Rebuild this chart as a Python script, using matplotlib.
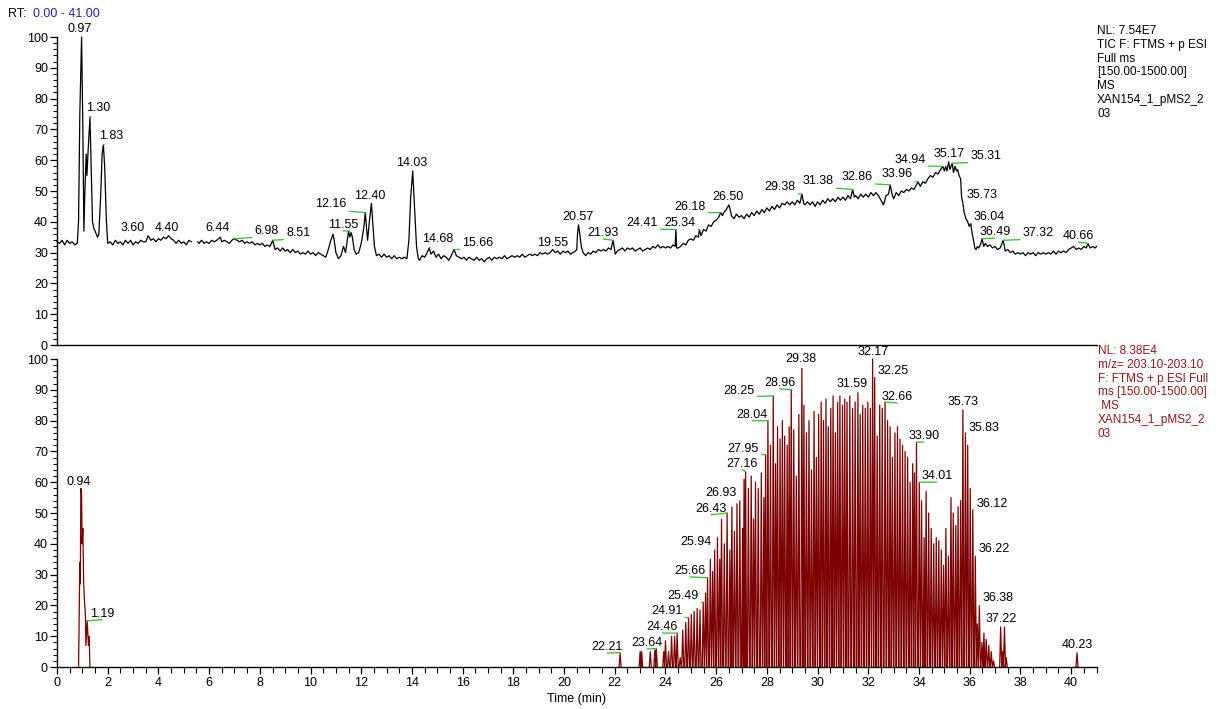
import numpy as np
import matplotlib.pyplot as plt
from matplotlib.ticker import MultipleLocator

plt.rcParams["font.family"] = ["Liberation Sans", "DejaVu Sans"]
plt.rcParams["font.size"] = 9

nan = float("nan")

# TIC trace (relative abundance, %)
tic_time = [
    0.0, 0.1, 0.2, 0.3, 0.4, 0.5, 0.6, 0.7, 0.8, 0.85,
    0.90, 0.97, 1.02, 1.06, 1.10, 1.15, 1.18, 1.22, 1.30, 1.34,
    1.40, 1.45, 1.50, 1.55, 1.60, 1.65, 1.72, 1.78, 1.83, 1.88,
    1.95, 2.0, 2.1, 2.2, 2.3, 2.4, 2.5, 2.6, 2.7, 2.8,
    2.9, 3.0, 3.1, 3.2, 3.3, 3.4, 3.5, 3.6, 3.7, 3.8,
    3.9, 4.0, 4.1, 4.2, 4.3, 4.4, 4.5, 4.6, 4.7, 4.8,
    4.9, 5.0, 5.1, 5.2, 5.3, 5.45, 5.55, 5.6, 5.7, 5.8,
    5.9, 6.0, 6.1, 6.2, 6.3, 6.44, 6.5, 6.6, 6.7, 6.8,
    6.9, 6.98, 7.1, 7.2, 7.3, 7.4, 7.5, 7.6, 7.7, 7.8,
    7.9, 8.0, 8.1, 8.2, 8.3, 8.4, 8.51, 8.6, 8.7, 8.8,
    8.9, 9.0, 9.1, 9.2, 9.3, 9.4, 9.5, 9.6, 9.7, 9.8,
    9.9, 10.0, 10.1, 10.2, 10.3, 10.4, 10.5, 10.6, 10.7, 10.8,
    10.89, 10.95, 11.0, 11.1, 11.2, 11.3, 11.38, 11.45, 11.5, 11.55,
    11.6, 11.65, 11.72, 11.8, 11.9, 12.0, 12.1, 12.16, 12.25, 12.32,
    12.40, 12.45, 12.52, 12.6, 12.7, 12.8, 12.9, 13.0, 13.1, 13.2,
    13.3, 13.4, 13.5, 13.6, 13.7, 13.8, 13.88, 13.95, 14.03, 14.1,
    14.18, 14.25, 14.3, 14.4, 14.5, 14.6, 14.68, 14.75, 14.85, 14.95,
    15.05, 15.15, 15.25, 15.35, 15.45, 15.55, 15.66, 15.75, 15.85, 15.95,
    16.05, 16.15, 16.25, 16.35, 16.45, 16.55, 16.65, 16.75, 16.85, 16.95,
    17.05, 17.15, 17.25, 17.35, 17.45, 17.55, 17.65, 17.75, 17.85, 17.95,
    18.05, 18.15, 18.25, 18.35, 18.45, 18.55, 18.65, 18.75, 18.85, 18.95,
    19.05, 19.15, 19.25, 19.35, 19.45, 19.55, 19.65, 19.75, 19.85, 19.95,
    20.05, 20.15, 20.25, 20.35, 20.45, 20.50, 20.53, 20.57, 20.62, 20.68,
    20.75, 20.85, 20.95, 21.05, 21.15, 21.25, 21.35, 21.45, 21.55, 21.65,
    21.75, 21.85, 21.93, 21.98, 22.02, 22.1, 22.2, 22.3, 22.4, 22.5,
    22.6, 22.7, 22.8, 22.9, 23.0, 23.1, 23.2, 23.3, 23.4, 23.5,
    23.6, 23.7, 23.8, 23.9, 24.0, 24.1, 24.2, 24.3, 24.38, 24.41,
    24.44, 24.5, 24.6, 24.7, 24.8, 24.9, 25.0, 25.1, 25.2, 25.3,
    25.34, 25.4, 25.5, 25.6, 25.7, 25.8, 25.9, 26.0, 26.1, 26.18,
    26.25, 26.3, 26.4, 26.5, 26.55, 26.6, 26.7, 26.8, 26.9, 27.0,
    27.1, 27.2, 27.3, 27.4, 27.5, 27.6, 27.7, 27.8, 27.9, 28.0,
    28.1, 28.2, 28.3, 28.4, 28.5, 28.6, 28.7, 28.8, 28.9, 29.0,
    29.1, 29.2, 29.3, 29.38, 29.45, 29.5, 29.6, 29.7, 29.8, 29.9,
    30.0, 30.1, 30.2, 30.3, 30.4, 30.5, 30.6, 30.7, 30.8, 30.9,
    31.0, 31.1, 31.2, 31.3, 31.38, 31.45, 31.5, 31.6, 31.7, 31.8,
    31.9, 32.0, 32.1, 32.2, 32.3, 32.4, 32.5, 32.6, 32.7, 32.8,
    32.86, 32.95, 33.0, 33.1, 33.2, 33.3, 33.4, 33.5, 33.6, 33.7,
    33.8, 33.9, 33.96, 34.05, 34.15, 34.25, 34.35, 34.45, 34.55, 34.65,
    34.75, 34.85, 34.94, 35.0, 35.05, 35.1, 35.17, 35.22, 35.31, 35.36,
    35.42, 35.48, 35.52, 35.58, 35.64, 35.68, 35.73, 35.78, 35.85, 35.92,
    35.98, 36.04, 36.1, 36.15, 36.2, 36.25, 36.3, 36.35, 36.42, 36.49,
    36.55, 36.62, 36.7, 36.8, 36.9, 37.0, 37.1, 37.2, 37.32, 37.4,
    37.5, 37.6, 37.7, 37.8, 37.9, 38.0, 38.1, 38.2, 38.3, 38.4,
    38.5, 38.6, 38.7, 38.8, 38.9, 39.0, 39.1, 39.2, 39.3, 39.4,
    39.5, 39.6, 39.7, 39.8, 39.9, 40.0, 40.1, 40.2, 40.3, 40.4,
    40.5, 40.6, 40.66, 40.75, 40.85, 40.95, 41.0,
]
tic_intensity = [
    33.5, 33, 34, 32.5, 34, 33, 33.5, 32.5, 33, 40,
    75, 100, 70, 37, 50, 62, 55, 62, 74, 60,
    40, 38, 37, 36, 35, 36, 48, 62, 65, 58,
    40, 33, 33.5, 32.5, 34, 33, 33.5, 32.5, 34, 33,
    34, 32.5, 33.5, 33, 34, 33.5, 33.5, 35.5, 34, 34.5,
    33.5, 34.5, 34, 35, 34.5, 35.5, 34.5, 34, 33, 34,
    33, 33.5, 32.5, 34, 33.5, nan, 33.5, 33, 34, 33,
    33.5, 33, 34, 33.5, 34, 35, 33.5, 34, 33.5, 33,
    34, 34.5, 34, 33.5, 34, 33, 33.5, 33, 33.5, 32.5,
    33, 32.5, 33, 32, 32.5, 32, 34, 31, 31.5, 30.5,
    31.5, 30.5, 31, 30, 31, 30, 30.5, 29.5, 30, 29.5,
    30.5, 29.5, 30, 29, 30, 29.5, 29, 28.5, 31, 34,
    36, 33, 30, 28, 29, 32, 30, 34, 37, 35,
    36.5, 35, 31, 29.5, 30, 33, 38, 43, 34, 40,
    46, 40, 32, 29, 29.5, 28.5, 29.5, 28.5, 29, 28,
    29, 28, 28.5, 28, 28.5, 28, 34, 48, 56.5, 45,
    32, 28, 27.5, 29, 28.5, 30, 31.5, 29.5, 30.5, 28.5,
    29.5, 28, 29, 28.5, 27.5, 29, 31, 29, 28.5, 28,
    28.5, 27.5, 28.5, 28, 27.5, 28.5, 27.5, 28, 27, 28,
    28.5, 27.5, 28.5, 28, 28.5, 28, 29, 28, 28.5, 29,
    28.5, 29, 28.5, 29.5, 28.5, 29, 29.5, 29, 29.5, 29,
    30, 29.5, 30, 29.5, 30, 31, 30, 30.5, 29.5, 30.5,
    30, 30.5, 29.5, 30, 30.5, 31, 36, 39, 36, 32,
    30, 29, 30, 29.5, 30.5, 30, 31, 30.5, 31, 30.5,
    31.5, 31, 34, 31.5, 29.5, 30.5, 31, 31.5, 30.5, 31.5,
    31, 31.5, 30.5, 31, 31.5, 30.5, 31, 31.5, 31, 32,
    31.5, 32.5, 31.5, 32, 31.5, 32, 31.5, 32.5, 32, 37.5,
    31.5, 31.5, 32, 33, 32.5, 34, 34.5, 34, 35.5, 35,
    37.5, 35.5, 37.5, 37, 39, 38.5, 40, 40.5, 41.5, 43,
    42, 43, 44, 45.5, 44, 42, 41, 42.5, 41.5, 42,
    41, 42.5, 41.5, 43, 42, 43.5, 42.5, 44, 43, 44.5,
    43.5, 45, 44, 45.5, 44.5, 46, 45.5, 46.5, 45.5, 46.5,
    45.5, 47, 46, 49, 46, 45.5, 46.5, 45.5, 46.5, 45,
    46.5, 45.5, 47, 46, 47.5, 46.5, 47.5, 46.5, 48, 47,
    48, 47, 48.5, 47.5, 50.5, 48, 48.5, 47.5, 49, 48,
    49, 48, 49.5, 48.5, 49.5, 48.5, 47, 45.5, 48.5, 49,
    52, 48.5, 47.5, 49.5, 48.5, 50, 49.5, 50.5, 50, 51,
    50.5, 52, 53, 51.5, 53, 52.5, 54, 55, 54.5, 56,
    55.5, 57, 58, 56.5, 58, 56.5, 59.5, 57, 59, 56,
    58, 56.5, 57, 55, 54, 48, 46, 43, 41, 40,
    38.5, 39.5, 36, 34, 31.5, 31, 32, 31.5, 32.5, 34.5,
    32, 33, 32, 32.5, 31.5, 32, 31, 31.5, 34, 30.5,
    31, 30, 30.5, 29.5, 30, 29.5, 30, 29, 30, 29.5,
    30, 29, 30, 29.5, 30, 29.5, 30, 29.5, 30.5, 29.5,
    30.5, 30, 30.5, 30, 31, 31.5, 32, 31, 31.5, 31,
    32, 31.5, 33, 31.5, 32, 31.5, 32,
]

# m/z 203.10 extracted ion chromatogram
xic_early_time = [0.85, 0.87, 0.90, 0.92, 0.94, 0.97, 0.99, 1.02, 1.05,
                  1.08, 1.12, 1.14, 1.19, 1.24, 1.27, 1.30]
xic_early_intensity = [0, 13, 34, 27, 58, 56, 40, 45, 28,
                       22, 17, 7, 15, 7, 10, 0]

xic_spike_time = [
    22.21, 23.00, 23.06, 23.40, 23.58, 23.64, 23.93,
    24.00, 24.12, 24.24, 24.36, 24.46, 24.58, 24.68, 24.80, 24.91,
    25.02, 25.13, 25.25, 25.36, 25.49, 25.58, 25.66, 25.77, 25.86, 25.94,
    26.05, 26.14, 26.21, 26.32, 26.43, 26.54, 26.62, 26.72, 26.82, 26.93,
    27.04, 27.10, 27.16, 27.27, 27.38, 27.47, 27.55, 27.66, 27.78, 27.88, 27.95,
    28.04, 28.14, 28.25, 28.34, 28.42, 28.52, 28.61, 28.70, 28.80, 28.88, 28.96,
    29.06, 29.16, 29.26, 29.38, 29.46, 29.56, 29.66, 29.76, 29.86, 29.95,
    30.04, 30.14, 30.23, 30.33, 30.42, 30.52, 30.61, 30.70, 30.79, 30.88,
    30.98, 31.07, 31.16, 31.27, 31.38, 31.48, 31.59, 31.68, 31.78, 31.88,
    31.98, 32.08, 32.17, 32.25, 32.35, 32.45, 32.55, 32.66, 32.76, 32.86, 32.95,
    33.05, 33.15, 33.25, 33.35, 33.45, 33.55, 33.65, 33.75, 33.82, 33.90,
    34.01, 34.10, 34.20, 34.28, 34.38, 34.48, 34.58, 34.68, 34.78, 34.88, 34.97,
    35.06, 35.16, 35.26, 35.35, 35.45, 35.54, 35.64, 35.73, 35.83, 35.92,
    36.02, 36.12, 36.22, 36.30, 36.38, 36.48, 36.56, 36.65, 36.75, 36.85, 36.94,
    37.22, 37.30, 37.37, 37.44, 40.23,
]
xic_spike_intensity = [
    4.5, 5, 5, 5, 5.5, 6, 5,
    8.5, 5, 10, 10, 11, 3, 12, 14.5, 16,
    17, 18, 19, 18.5, 21, 24, 29, 35, 31, 38,
    42, 35, 48, 40, 50, 38, 52, 44, 53, 54,
    45, 61, 63.5, 58, 62, 48, 60, 58, 63, 55, 69,
    80, 72, 88, 66, 78, 74, 80, 75, 72, 78, 90,
    77, 62, 82, 97, 85, 76, 80, 64, 83, 68,
    82, 86, 80, 87, 78, 84, 88, 76, 86, 88,
    85, 87, 86, 88, 84, 86, 89, 82, 85, 84,
    86, 84, 100, 94, 75, 85, 84, 86, 80, 78, 68,
    76, 78, 74, 72, 70, 68, 60, 66, 63, 73,
    60, 54, 42, 57, 50, 45, 40, 42, 41, 38, 33,
    45, 36, 55, 50, 46, 52, 54, 83.5, 76, 72,
    58, 51, 36, 14, 20, 8, 11, 9, 7, 5, 2,
    13, 5, 13, 3, 4.6,
]

# peak labels: retention time, peak height, label anchor (centre x, baseline y), leader line
tic_label_time = [0.97, 1.30, 1.83, 3.60, 4.40, 6.44, 6.98, 8.51, 11.55, 12.16,
                  12.40, 14.03, 14.68, 15.66, 19.55, 20.57, 21.93, 24.41, 25.34,
                  26.18, 26.50, 29.38, 31.38, 32.86, 33.96, 34.94, 35.17, 35.31,
                  35.73, 36.04, 36.49, 37.32, 40.66]
tic_label_peak = [100, 74, 65, 35.5, 35.5, 35, 34.5, 34, 37, 43,
                  46, 56.5, 31.5, 31, 31, 39, 34, 37.5, 37.5,
                  43, 45.5, 49, 50.5, 52, 53, 58, 59.5, 59,
                  46, 39.5, 34.5, 34, 33]
tic_label_x = [0.91, 1.62, 2.13, 3.0, 4.34, 6.35, 8.28, 9.51, 11.28, 10.81,
               12.35, 14.0, 15.03, 16.6, 19.53, 20.55, 21.54, 23.08, 24.58,
               24.97, 26.47, 28.52, 30.02, 31.56, 33.14, 33.64, 35.19, 36.65,
               36.47, 36.77, 37.0, 38.7, 40.3]
tic_label_y = [101.5, 76.0, 67.0, 37.0, 37.0, 37.0, 36.2, 35.5, 38.0, 44.8,
               47.5, 58.0, 33.5, 32.2, 32.0, 40.5, 35.4, 38.7, 38.7,
               43.9, 47.0, 50.4, 52.3, 53.6, 54.6, 59.1, 61.0, 60.4,
               47.8, 40.6, 35.7, 35.4, 34.4]
tic_label_leader = [False, True, True, True, False, False, True, True, True, True,
                    False, False, True, True, False, False, True, True, True,
                    True, False, True, True, True, True, True, False, True,
                    True, True, True, True, True]

xic_label_time = [0.94, 1.19, 22.21, 23.64, 24.46, 24.91, 25.49, 25.66, 25.94,
                  26.43, 26.93, 27.16, 27.95, 28.04, 28.25, 28.96, 29.38, 31.59,
                  32.17, 32.25, 32.66, 33.90, 34.01, 35.73, 35.83, 36.12, 36.22,
                  36.38, 37.22, 40.23]
xic_label_peak = [58, 15, 4.7, 6, 11, 16, 21, 29, 38,
                  50, 54, 63.5, 69, 80, 88, 90, 97, 89,
                  100, 94, 86, 73, 60, 83.5, 76, 51, 36,
                  20, 13, 4.6]
xic_label_x = [0.87, 1.78, 21.7, 23.27, 23.87, 24.06, 24.69, 24.97, 25.2,
               25.8, 26.2, 27.02, 27.06, 27.42, 26.9, 28.5, 29.35, 31.36,
               32.19, 32.98, 33.14, 34.2, 34.7, 35.74, 36.57, 36.88, 36.96,
               37.12, 37.24, 40.24]
xic_label_y = [59.1, 16.3, 5.5, 6.8, 12.0, 17.2, 22.1, 30.2, 39.6,
               50.4, 55.5, 65.0, 69.8, 80.9, 88.7, 91.3, 99.0, 90.9,
               101.3, 95.2, 86.7, 74.0, 61.0, 85.0, 76.6, 52.0, 37.4,
               21.5, 14.6, 6.2]
xic_label_leader = [False, True, True, True, True, True, True, True, True,
                    True, True, True, True, True, True, True, False, True,
                    False, True, True, True, True, False, True, True, True,
                    True, False, False]

tic_header = "NL: 7.54E7\nTIC F: FTMS + p ESI\nFull ms\n[150.00-1500.00]\nMS\nXAN154_1_pMS2_2\n03"
xic_header = "NL: 8.38E4\nm/z= 203.10-203.10\nF: FTMS + p ESI Full\nms [150.00-1500.00]\n MS\nXAN154_1_pMS2_2\n03"

LEADER_GREEN = "#2fbf2f"
XIC_RED = "#7d0000"
HEADER_RED = "#8b1a1a"
RANGE_BLUE = "#2424a8"


def spike_path(times, heights, half_width=0.04):
    """Turn scan apexes into separate narrow triangles standing on zero."""
    t = np.asarray(times, dtype=float)
    h = np.asarray(heights, dtype=float)
    z = np.zeros_like(h)
    gap = np.full_like(h, np.nan)
    x = np.column_stack([t - half_width, t, t + half_width, gap]).ravel()
    y = np.column_stack([z, h, z, gap]).ravel()
    return x, y


def style_axis(ax, show_x):
    ax.set_xlim(0, 41)
    ax.set_ylim(0, 100)
    ax.spines["top"].set_visible(False)
    ax.spines["right"].set_visible(False)
    for side in ("left", "bottom"):
        ax.spines[side].set_linewidth(1.0)
    ax.yaxis.set_major_locator(MultipleLocator(10))
    ax.yaxis.set_minor_locator(MultipleLocator(2))
    ax.tick_params(axis="y", which="major", direction="out", length=5, width=0.9,
                   labelsize=9, pad=1.5)
    ax.tick_params(axis="y", which="minor", direction="out", length=3, width=0.8)
    if show_x:
        ax.xaxis.set_major_locator(MultipleLocator(2))
        ax.xaxis.set_minor_locator(MultipleLocator(0.5))
        ax.tick_params(axis="x", which="major", direction="out", length=5, width=0.9,
                       labelsize=9, pad=2)
        ax.tick_params(axis="x", which="minor", direction="out", length=4, width=0.8)
    else:
        ax.tick_params(axis="x", which="both", bottom=False, labelbottom=False)


def label_peaks(ax, times, peaks, text_x, text_y, leader):
    for t, p, tx, ty, has_line in zip(times, peaks, text_x, text_y, leader):
        props = None
        if has_line:
            props = dict(arrowstyle="-", color=LEADER_GREEN, lw=0.9,
                         shrinkA=0, shrinkB=0, relpos=(0.5, 0.0))
        ax.annotate(f"{t:.2f}", xy=(t, p), xytext=(tx, ty), textcoords="data",
                    ha="center", va="baseline", fontsize=9, color="black",
                    arrowprops=props, annotation_clip=False)


W, H = 1220, 709
fig = plt.figure(figsize=(W / 100, H / 100), dpi=100)
ax_tic = fig.add_axes([57 / W, 1 - 345 / H, 1039.5 / W, 308 / H])
ax_xic = fig.add_axes([57 / W, 1 - 667 / H, 1039.5 / W, 308 / H])

ax_tic.plot(tic_time, tic_intensity, color="black", lw=0.9, clip_on=False)
style_axis(ax_tic, show_x=False)
label_peaks(ax_tic, tic_label_time, tic_label_peak, tic_label_x, tic_label_y, tic_label_leader)

ax_xic.plot(xic_early_time, xic_early_intensity, color=XIC_RED, lw=0.9)
sx, sy = spike_path(xic_spike_time, xic_spike_intensity)
ax_xic.plot(sx, sy, color=XIC_RED, lw=0.9, clip_on=False)
style_axis(ax_xic, show_x=True)
ax_xic.set_xlabel("Time (min)", fontsize=9, labelpad=3)
label_peaks(ax_xic, xic_label_time, xic_label_peak, xic_label_x, xic_label_y, xic_label_leader)

fig.text(8 / W, 1 - 14 / H, "RT:", fontsize=9, va="center", ha="left")
fig.text(33 / W, 1 - 14 / H, "0.00 - 41.00", fontsize=9, va="center", ha="left",
         color=RANGE_BLUE)
fig.text(1097 / W, 1 - 25 / H, tic_header, fontsize=8.5, va="top", ha="left",
         linespacing=1.2)
fig.text(1098 / W, 1 - 345 / H, xic_header, fontsize=8.5, va="top", ha="left",
         linespacing=1.2, color=HEADER_RED)

fig.savefig("out.png", dpi=100)
